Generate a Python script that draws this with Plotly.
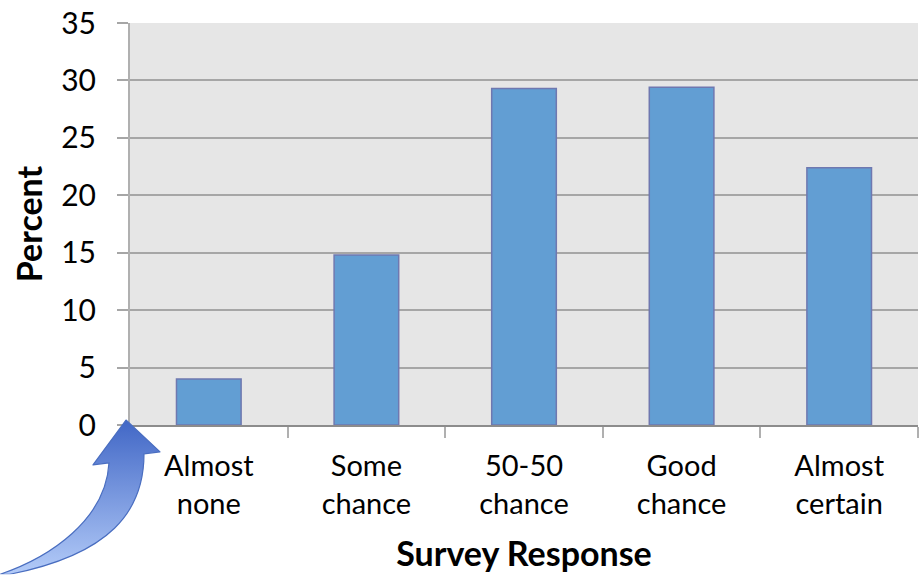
import base64
import plotly.graph_objects as go

# Survey data
categories = ["Almost<br>none", "Some<br>chance", "50-50<br>chance", "Good<br>chance", "Almost<br>certain"]
percent = [4.0, 14.8, 29.3, 29.4, 22.4]
y_ticks = [0, 5, 10, 15, 20, 25, 30, 35]

W, H = 921, 575
ML, MR, MT, MB = 130, 3, 21, 150
PW, PH = W - ML - MR, H - MT - MB

FONT = "Lato, 'Open Sans', sans-serif"

fig = go.Figure(
    go.Bar(
        x=categories,
        y=percent,
        marker=dict(color="#629ed3", line=dict(color="#6f78b0", width=1.5)),
        width=0.41,
    )
)

# Decorative curved arrow pointing at the origin, drawn as an SVG overlay
arrow_svg = f"""<svg xmlns='http://www.w3.org/2000/svg' width='{W}' height='{H}' viewBox='0 0 {W} {H}'>
<defs><linearGradient id='gp' gradientUnits='userSpaceOnUse' x1='0' y1='420' x2='0' y2='575'>
<stop offset='0' stop-color='#4167c6'/><stop offset='1' stop-color='#b3cbf8'/></linearGradient></defs>
<path d='M 126 420 L 160 452 L 144 454 C 144 512, 110 555, 10 575 L 0 575 C 50 558, 106 520, 109 463 L 93 465 Z'
 fill='url(#gp)' stroke='#4a6ec0' stroke-width='1.2' stroke-linejoin='round'/>
</svg>"""
arrow_src = "data:image/svg+xml;base64," + base64.b64encode(arrow_svg.encode()).decode()

fig.update_layout(
    width=W,
    height=H,
    margin=dict(l=ML, r=MR, t=MT, b=MB),
    paper_bgcolor="white",
    plot_bgcolor="#e6e6e6",
    showlegend=False,
    font=dict(family=FONT, color="black"),
    images=[
        dict(
            source=arrow_src,
            xref="paper",
            yref="paper",
            x=-ML / PW,
            y=1 + MT / PH,
            sizex=W / PW,
            sizey=H / PH,
            xanchor="left",
            yanchor="top",
            sizing="stretch",
            layer="above",
        )
    ],
)

fig.update_xaxes(
    showgrid=False,
    showline=True,
    linecolor="#8c8c8c",
    linewidth=2,
    ticks="outside",
    tickson="boundaries",
    ticklen=11,
    tickcolor="#b0b0b0",
    tickwidth=2,
    ticklabelstandoff=14,
    tickfont=dict(size=29, family=FONT),
    title=dict(text="<b>Survey Response</b>", font=dict(size=34, family=FONT), standoff=24),
)

fig.update_yaxes(
    range=[0, 35],
    tickvals=y_ticks,
    showgrid=True,
    gridcolor="#a6a6a6",
    gridwidth=2,
    showline=True,
    linecolor="#b0b0b0",
    linewidth=2,
    ticks="outside",
    ticklen=11,
    tickcolor="#a6a6a6",
    tickwidth=2,
    ticklabelstandoff=15,
    tickfont=dict(size=30, family=FONT),
    zeroline=False,
    title=dict(text="<b>Percent</b>", font=dict(size=34, family=FONT), standoff=8),
)

fig.write_html("out.html")
